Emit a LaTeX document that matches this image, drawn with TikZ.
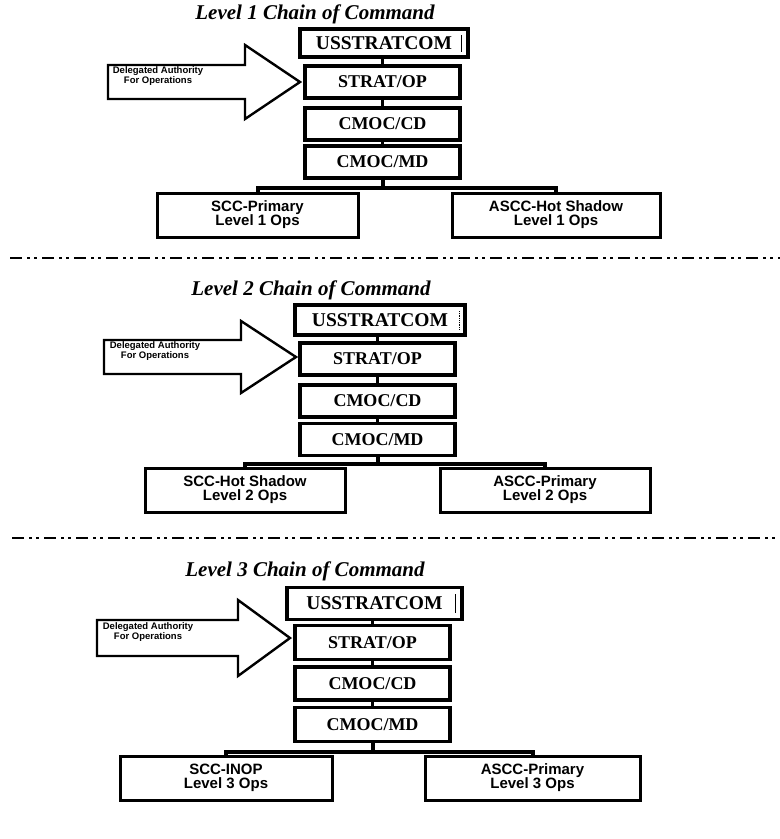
\documentclass[tikz,border=0pt]{standalone}
\usepackage{fontspec}
\setmainfont{Liberation Serif}
\setsansfont{Liberation Sans}
\begin{document}
\begin{tikzpicture}[x=1pt,y=-1pt,
  cbox/.style={draw, line width=3.2pt, inner sep=0pt, minimum width=155pt, minimum height=32pt,
    font=\fontsize{18}{20}\selectfont\bfseries},
  ubox/.style={cbox, font=\fontsize{19.5}{22}\selectfont\bfseries},
  obox/.style={draw, line width=3pt, inner sep=0pt, minimum height=44pt, align=center,
    font=\sffamily\bfseries\fontsize{15}{14}\selectfont},
  ttl/.style={font=\fontsize{21}{24}\selectfont\bfseries\itshape},
  conn/.style={line width=3.5pt},
  brk/.style={line width=4pt},
  barr/.style={draw, line width=2.4pt, line join=miter},
  atext/.style={align=center, font=\sffamily\bfseries\fontsize{9.5}{9.5}\selectfont},
  sep/.style={line width=2.8pt, dash pattern=on 12pt off 5pt on 3pt off 4pt on 3pt off 5pt}
]
\useasboundingbox (0,0) rectangle (780,839);

% ===== Level 1 =====
\node[ttl] (t1) at (315,14) {Level 1 Chain of Command};
\node[ubox, minimum width=168pt, minimum height=28pt] (u1) at (384,43) {USSTRATCOM};
\draw[line width=0.8pt] (461,35) -- (461,52);
\node[cbox] (s1) at (382.5,82) {STRAT/OP};
\node[cbox] (cd1) at (382.5,124) {CMOC/CD};
\node[cbox] (md1) at (382.5,162) {CMOC/MD};
\node[obox, minimum width=201pt] (l1) at (257.5,215) {SCC-Primary\\Level 1 Ops};
\node[obox, minimum width=208pt] (r1) at (556,215) {ASCC-Hot Shadow\\Level 1 Ops};
\coordinate (tip1) at (300,82);
\draw[barr] (tip1) -- ++(-55,-37) -- ++(0,20) -- ++(-137,0) -- ++(0,34) -- ++(137,0) -- ++(0,20) -- cycle;
\node[atext] (a1) at (158,76) {Delegated Authority\\For Operations};
\draw[conn] (s1.north) -- (s1.north |- u1.south);
\draw[conn] (cd1.north) -- (cd1.north |- s1.south);
\draw[conn] (md1.north) -- (md1.north |- cd1.south);
\coordinate (b1) at (382.5,188);
\draw[brk] (md1.south) -- (b1);
\draw[brk] (l1.north) |- (b1) -| (r1.north);
\coordinate (sepa1) at (10,258);
\coordinate (sepb1) at (780,258);
\draw[sep] (sepa1) -- (sepb1);

% ===== Level 2 =====
\node[ttl] (t2) at (311,290) {Level 2 Chain of Command};
\node[ubox, minimum width=170pt, minimum height=30pt] (u2) at (380,320) {USSTRATCOM};
\draw[line width=0.8pt, densely dotted] (459,311) -- (459,330);
\node[cbox] (s2) at (377.5,359) {STRAT/OP};
\node[cbox] (cd2) at (377.5,401) {CMOC/CD};
\node[cbox] (md2) at (377.5,439.5) {CMOC/MD};
\node[obox, minimum width=200pt] (l2) at (245,490) {SCC-Hot Shadow\\Level 2 Ops};
\node[obox, minimum width=210pt] (r2) at (545,490) {ASCC-Primary\\Level 2 Ops};
\coordinate (tip2) at (296,357);
\draw[barr] (tip2) -- ++(-55,-36) -- ++(0,19) -- ++(-137,0) -- ++(0,34) -- ++(137,0) -- ++(0,19) -- cycle;
\node[atext] (a2) at (155,351) {Delegated Authority\\For Operations};
\draw[conn] (s2.north) -- (s2.north |- u2.south);
\draw[conn] (cd2.north) -- (cd2.north |- s2.south);
\draw[conn] (md2.north) -- (md2.north |- cd2.south);
\coordinate (b2) at (377.5,464);
\draw[brk] (md2.south) -- (b2);
\draw[brk] (l2.north) |- (b2) -| (r2.north);
\coordinate (sepa2) at (12,538);
\coordinate (sepb2) at (780,538);
\draw[sep] (sepa2) -- (sepb2);

% ===== Level 3 =====
\node[ttl] (t3) at (305,571) {Level 3 Chain of Command};
\node[ubox, minimum width=175pt, minimum height=32pt] (u3) at (374.5,603.5) {USSTRATCOM};
\draw[line width=0.8pt] (455,594) -- (455,613);
\node[cbox, minimum height=34pt] (s3) at (372.5,642.5) {STRAT/OP};
\node[cbox, minimum height=33pt] (cd3) at (372.5,683.5) {CMOC/CD};
\node[cbox, minimum height=34pt] (md3) at (372.5,724.5) {CMOC/MD};
\node[obox, minimum width=212pt] (l3) at (226,778) {SCC-INOP\\Level 3 Ops};
\node[obox, minimum width=215pt] (r3) at (532.5,778) {ASCC-Primary\\Level 3 Ops};
\coordinate (tip3) at (290,638);
\draw[barr] (tip3) -- ++(-52,-38) -- ++(0,20) -- ++(-141,0) -- ++(0,36) -- ++(141,0) -- ++(0,20) -- cycle;
\node[atext] (a3) at (148,632) {Delegated Authority\\For Operations};
\draw[conn] (s3.north) -- (s3.north |- u3.south);
\draw[conn] (cd3.north) -- (cd3.north |- s3.south);
\draw[conn] (md3.north) -- (md3.north |- cd3.south);
\coordinate (b3) at (372.5,752);
\draw[brk] (md3.south) -- (b3);
\draw[brk] (l3.north) |- (b3) -| (r3.north);
\end{tikzpicture}
\end{document}
